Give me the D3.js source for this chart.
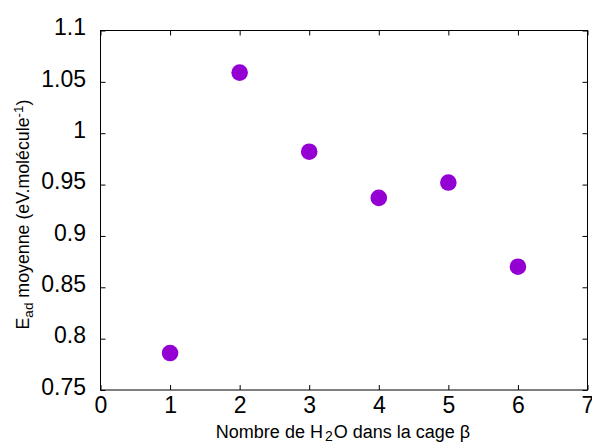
<!DOCTYPE html>
<html><head><meta charset="utf-8">
<script src="https://cdn.jsdelivr.net/npm/d3@7"></script>
<style>body{margin:0;background:#fff}svg{display:block}text{font-family:"Liberation Sans",Arial,sans-serif}</style>
</head><body>
<script>
const xValues = [1, 2, 3, 4, 5, 6];
const yValues = [0.786, 1.059, 0.982, 0.937, 0.952, 0.870];
const xTicks = [0, 1, 2, 3, 4, 5, 6, 7];
const yTicks = [0.75, 0.8, 0.85, 0.9, 0.95, 1, 1.05, 1.1];
const yTickLabels = ["0.75", "0.8", "0.85", "0.9", "0.95", "1", "1.05", "1.1"];

const W = 592, H = 443;
const m = {left: 100.5, top: 30.5, right: 587.5, bottom: 390};
const svg = d3.select("body").append("svg").attr("width", W).attr("height", H);
const x = d3.scaleLinear().domain([0, 7]).range([m.left, m.right]);
const y = d3.scaleLinear().domain([0.75, 1.1]).range([m.bottom, m.top]);
const tl = 5;

const gB = svg.append("g").attr("transform", `translate(0,${m.bottom})`)
  .call(d3.axisBottom(x).tickValues(xTicks).tickSizeInner(-tl).tickSizeOuter(0).tickPadding(22.5).tickFormat(d3.format("d")));
const gT = svg.append("g").attr("transform", `translate(0,${m.top})`)
  .call(d3.axisTop(x).tickValues(xTicks).tickSizeInner(-tl).tickSizeOuter(0).tickFormat(""));
const gL = svg.append("g").attr("transform", `translate(${m.left},0)`)
  .call(d3.axisLeft(y).tickValues(yTicks).tickSizeInner(-tl).tickSizeOuter(0).tickPadding(14.5).tickFormat((d,i)=>yTickLabels[i]));
const gR = svg.append("g").attr("transform", `translate(${m.right},0)`)
  .call(d3.axisRight(y).tickValues(yTicks).tickSizeInner(-tl).tickSizeOuter(0).tickFormat(""));
[gB, gT, gL, gR].forEach(g => {
  g.select(".domain").remove();
  g.selectAll(".tick line").attr("stroke", "#000");
  g.selectAll("text").attr("font-size", 23).attr("fill", "#000").attr("font-family", '"Liberation Sans",Arial,sans-serif');
});
gB.selectAll("text").attr("dy", 0);
gL.selectAll("text").attr("dy", 4.3);
svg.append("rect").attr("x", m.left).attr("y", m.top).attr("width", m.right - m.left).attr("height", m.bottom - m.top)
  .attr("fill", "none").attr("stroke", "#000").attr("stroke-width", 1);

svg.append("g").selectAll("circle").data(xValues).join("circle")
  .attr("cx", d => x(d)).attr("cy", (d, i) => y(yValues[i])).attr("r", 8.3).attr("fill", "#9400d3");

const xl = svg.append("text").attr("x", 343).attr("y", 438).attr("text-anchor", "middle").attr("font-size", 18).attr("fill", "#000");
xl.append("tspan").text("Nombre de H");
xl.append("tspan").attr("font-size", 14).attr("dy", 3).attr("dx", 2).text("2");
xl.append("tspan").attr("dy", -3).attr("dx", 1).text("O dans la cage  β");

const yl = svg.append("text").attr("transform", `translate(29,214.5) rotate(-90)`).attr("text-anchor", "middle").attr("font-size", 17.8).attr("fill", "#000");
yl.append("tspan").text("E");
yl.append("tspan").attr("font-size", 13.5).attr("dy", 4).text("ad");
yl.append("tspan").attr("dy", -4).text(" moyenne (eV.molécule");
yl.append("tspan").attr("font-size", 13.5).attr("dy", -6.5).text("-1");
yl.append("tspan").attr("dy", 6.5).text(")");
</script>
</body></html>
